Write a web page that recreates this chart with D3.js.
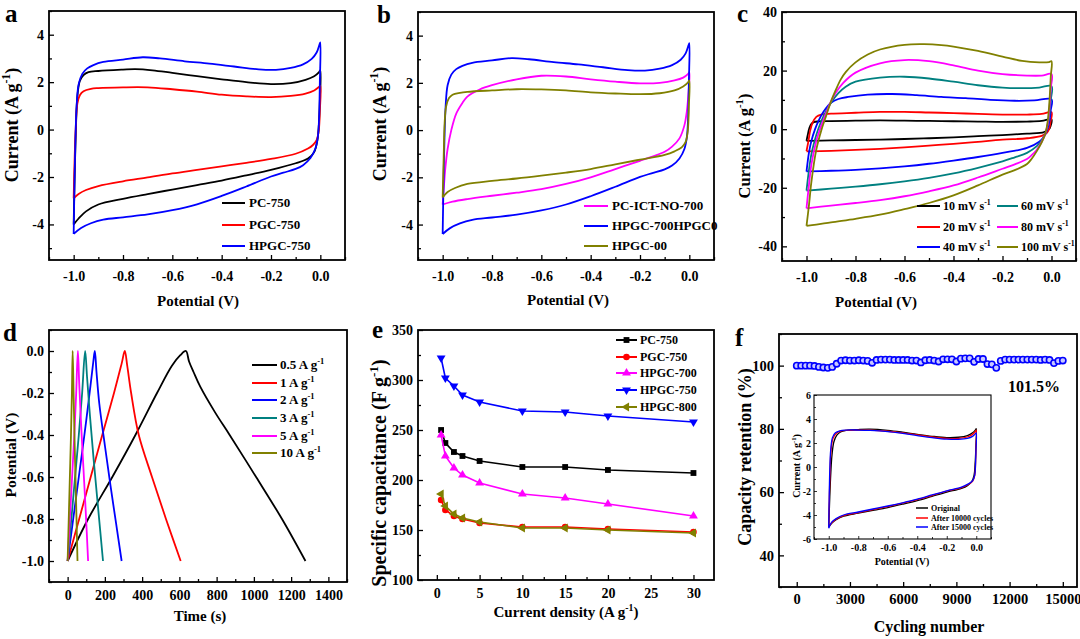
<!DOCTYPE html>
<html><head><meta charset="utf-8">
<script src="https://cdn.jsdelivr.net/npm/d3@7"></script>
<style>
body{margin:0;background:#fff}
svg{display:block}
text{font-family:"Liberation Serif","Times New Roman",serif;font-weight:bold;fill:#000}
</style></head>
<body><svg id="c" width="1080" height="639"></svg>
<script>
// ---------------- DATA ----------------
// Panel a : CV at 5 mV/s (Potential V, Current A/g)
const aNames = ["PC-750", "PGC-750", "HPGC-750"];
const aPC750 = [[-1.0,-4.0],[-0.996,-2.0],[-0.991,0.0],[-0.985,1.4],[-0.975,2.05],[-0.96,2.3],[-0.94,2.42],[-0.9,2.47],[-0.8,2.53],[-0.75,2.55],[-0.68,2.5],[-0.6,2.39],[-0.5,2.25],[-0.4,2.12],[-0.3,2.0],[-0.2,1.92],[-0.12,1.96],[-0.06,2.1],[-0.025,2.25],[-0.005,2.42],[0.0,2.5],[-0.002,1.2],[-0.006,0.2],[-0.012,-0.45],[-0.025,-0.95],[-0.05,-1.22],[-0.1,-1.42],[-0.2,-1.7],[-0.3,-1.93],[-0.4,-2.15],[-0.5,-2.34],[-0.6,-2.53],[-0.7,-2.72],[-0.8,-2.92],[-0.9,-3.16],[-0.95,-3.45],[-0.98,-3.75],[-1.0,-4.0]];
const aPGC750 = [[-1.0,-2.9],[-0.996,-1.2],[-0.991,0.2],[-0.985,1.1],[-0.975,1.45],[-0.96,1.62],[-0.93,1.72],[-0.9,1.75],[-0.8,1.78],[-0.7,1.78],[-0.6,1.7],[-0.5,1.6],[-0.4,1.47],[-0.3,1.4],[-0.2,1.37],[-0.12,1.42],[-0.06,1.52],[-0.025,1.65],[-0.005,1.8],[0.0,1.85],[-0.002,0.8],[-0.006,0.0],[-0.015,-0.45],[-0.03,-0.65],[-0.05,-0.8],[-0.1,-1.02],[-0.2,-1.24],[-0.3,-1.4],[-0.4,-1.55],[-0.5,-1.7],[-0.6,-1.85],[-0.7,-2.02],[-0.8,-2.18],[-0.9,-2.38],[-0.95,-2.55],[-0.98,-2.72],[-1.0,-2.9]];
const aHPGC750 = [[-1.0,-4.4],[-0.997,-2.5],[-0.993,-0.5],[-0.988,1.0],[-0.98,1.9],[-0.965,2.35],[-0.945,2.58],[-0.92,2.72],[-0.88,2.85],[-0.8,2.95],[-0.72,3.05],[-0.65,3.0],[-0.55,2.88],[-0.45,2.78],[-0.35,2.66],[-0.25,2.54],[-0.18,2.52],[-0.12,2.6],[-0.07,2.75],[-0.035,2.98],[-0.015,3.25],[-0.003,3.6],[0.0,3.68],[-0.002,2.0],[-0.005,0.5],[-0.01,-0.3],[-0.02,-0.8],[-0.04,-1.2],[-0.07,-1.5],[-0.1,-1.66],[-0.15,-1.82],[-0.2,-1.98],[-0.3,-2.4],[-0.4,-2.8],[-0.5,-3.15],[-0.6,-3.4],[-0.7,-3.58],[-0.8,-3.7],[-0.88,-3.8],[-0.93,-3.95],[-0.97,-4.15],[-1.0,-4.4]];

// Panel b
const bNames = ["PC-ICT-NO-700", "HPGC-700HPGC0", "HPGC-00"];
const bPCICT = [[-1.0,-3.15],[-0.995,-2.4],[-0.99,-1.7],[-0.98,-0.8],[-0.965,0.0],[-0.945,0.7],[-0.92,1.15],[-0.9,1.42],[-0.85,1.72],[-0.8,1.9],[-0.7,2.15],[-0.6,2.3],[-0.5,2.27],[-0.4,2.15],[-0.3,2.05],[-0.2,1.98],[-0.12,2.0],[-0.06,2.1],[-0.025,2.22],[-0.005,2.38],[0.0,2.45],[-0.004,1.5],[-0.01,0.8],[-0.02,0.2],[-0.04,-0.35],[-0.07,-0.7],[-0.1,-0.92],[-0.15,-1.12],[-0.2,-1.3],[-0.3,-1.65],[-0.4,-2.0],[-0.5,-2.28],[-0.6,-2.5],[-0.7,-2.65],[-0.8,-2.78],[-0.9,-2.92],[-0.96,-3.03],[-1.0,-3.15]];
const bHPGC700 = aHPGC750;
const bHPGC00 = [[-1.0,-2.85],[-0.996,-1.2],[-0.992,0.3],[-0.986,1.0],[-0.975,1.35],[-0.96,1.5],[-0.93,1.58],[-0.9,1.62],[-0.8,1.68],[-0.7,1.73],[-0.6,1.72],[-0.5,1.68],[-0.4,1.6],[-0.3,1.55],[-0.2,1.52],[-0.12,1.56],[-0.06,1.68],[-0.025,1.85],[-0.005,2.02],[0.0,2.1],[-0.002,1.0],[-0.006,0.0],[-0.015,-0.5],[-0.03,-0.72],[-0.06,-0.9],[-0.1,-1.05],[-0.2,-1.25],[-0.3,-1.45],[-0.4,-1.65],[-0.5,-1.8],[-0.6,-1.93],[-0.7,-2.05],[-0.8,-2.15],[-0.9,-2.28],[-0.95,-2.45],[-0.98,-2.62],[-1.0,-2.85]];

// Panel c : CV at scan rates
const cNames = ["10 mV s", "20 mV s", "40 mV s", "60 mV s", "80 mV s", "100 mV s"];
const c10 = [[-1.0,-4.0],[-0.995,-2.0],[-0.988,0.5],[-0.98,1.8],[-0.97,2.4],[-0.95,2.65],[-0.9,2.75],[-0.8,2.9],[-0.7,3.0],[-0.6,2.9],[-0.5,2.8],[-0.4,2.7],[-0.3,2.6],[-0.2,2.5],[-0.1,2.6],[-0.04,2.8],[0.0,3.3],[-0.004,1.0],[-0.01,0.0],[-0.03,-1.0],[-0.1,-1.5],[-0.2,-2.0],[-0.3,-2.4],[-0.4,-2.8],[-0.5,-3.1],[-0.6,-3.35],[-0.7,-3.55],[-0.8,-3.7],[-0.9,-3.85],[-1.0,-4.0]];
const c20 = [[-1.0,-7.5],[-0.992,-4.0],[-0.985,-0.5],[-0.975,2.2],[-0.96,4.2],[-0.94,5.0],[-0.9,5.3],[-0.8,5.6],[-0.7,5.9],[-0.6,5.9],[-0.5,5.7],[-0.4,5.5],[-0.3,5.2],[-0.2,5.0],[-0.1,5.0],[-0.04,5.2],[0.0,5.8],[-0.004,2.5],[-0.01,0.0],[-0.02,-1.3],[-0.04,-2.3],[-0.1,-3.1],[-0.2,-3.6],[-0.3,-4.3],[-0.4,-5.0],[-0.5,-5.6],[-0.6,-6.2],[-0.7,-6.7],[-0.8,-7.1],[-0.9,-7.4],[-1.0,-7.6]];
const c40 = [[-1.0,-14.5],[-0.99,-8.0],[-0.98,-4.0],[-0.965,0.0],[-0.95,3.0],[-0.93,6.0],[-0.9,9.0],[-0.87,10.3],[-0.83,11.0],[-0.75,11.8],[-0.65,12.0],[-0.55,11.6],[-0.45,11.0],[-0.35,10.6],[-0.25,10.0],[-0.15,9.7],[-0.07,9.8],[0.0,10.2],[-0.003,6.5],[-0.008,3.0],[-0.015,0.5],[-0.03,-2.5],[-0.05,-4.3],[-0.1,-6.4],[-0.2,-8.1],[-0.3,-9.5],[-0.4,-10.7],[-0.5,-11.8],[-0.6,-12.7],[-0.7,-13.4],[-0.8,-13.9],[-0.9,-14.2],[-1.0,-14.4]];
const c60 = [[-1.0,-21.0],[-0.99,-14.0],[-0.98,-8.5],[-0.96,-2.0],[-0.95,0.5],[-0.93,4.5],[-0.9,9.0],[-0.87,12.3],[-0.84,14.5],[-0.8,16.2],[-0.7,17.6],[-0.6,17.9],[-0.5,17.3],[-0.4,16.2],[-0.3,15.0],[-0.2,14.2],[-0.12,14.0],[-0.05,14.2],[0.0,14.7],[-0.003,10.0],[-0.008,5.5],[-0.015,1.5],[-0.025,-1.3],[-0.04,-3.8],[-0.06,-5.8],[-0.1,-8.1],[-0.15,-9.6],[-0.2,-11.0],[-0.3,-13.2],[-0.4,-15.1],[-0.5,-16.6],[-0.6,-17.8],[-0.7,-18.8],[-0.8,-19.6],[-0.9,-20.3],[-1.0,-21.0]];
const c80 = [[-1.0,-27.0],[-0.99,-19.0],[-0.98,-12.0],[-0.96,-4.0],[-0.945,0.0],[-0.92,5.5],[-0.9,9.5],[-0.88,12.5],[-0.85,15.8],[-0.8,19.3],[-0.7,22.5],[-0.6,23.6],[-0.5,23.2],[-0.4,21.8],[-0.3,20.0],[-0.2,18.8],[-0.1,18.3],[-0.04,18.3],[0.0,18.8],[-0.003,14.0],[-0.008,7.5],[-0.015,2.0],[-0.025,-1.5],[-0.04,-4.3],[-0.06,-7.0],[-0.08,-8.8],[-0.1,-10.2],[-0.15,-12.0],[-0.2,-13.5],[-0.3,-16.5],[-0.4,-19.2],[-0.5,-21.2],[-0.6,-22.9],[-0.7,-24.2],[-0.8,-25.2],[-0.9,-26.1],[-1.0,-27.0]];
const c100 = [[-1.0,-33.0],[-0.99,-26.0],[-0.98,-18.0],[-0.96,-7.0],[-0.94,-0.5],[-0.92,4.5],[-0.9,9.5],[-0.88,13.5],[-0.86,17.0],[-0.84,19.5],[-0.8,22.8],[-0.75,25.5],[-0.7,27.2],[-0.6,28.8],[-0.52,29.0],[-0.45,28.7],[-0.4,28.2],[-0.3,26.7],[-0.2,24.8],[-0.12,23.3],[-0.05,22.8],[-0.01,22.9],[0.0,23.2],[-0.003,18.0],[-0.008,10.0],[-0.015,3.0],[-0.025,-1.5],[-0.04,-4.5],[-0.06,-7.5],[-0.08,-10.0],[-0.1,-11.9],[-0.15,-14.0],[-0.2,-15.5],[-0.3,-19.2],[-0.4,-22.6],[-0.5,-25.2],[-0.6,-27.3],[-0.7,-29.2],[-0.8,-30.6],[-0.9,-31.8],[-0.96,-32.6],[-1.0,-33.0]];

// Panel d : GCD (Time s, Potential V)
const dNames = ["0.5 A g", "1 A g", "2 A g", "3 A g", "5 A g", "10 A g"];
const gcd05 = [[0,-1.0],[110,-0.8],[240,-0.6],[364,-0.4],[480,-0.2],[560,-0.07],[605,-0.02],[635,0.0],[652,-0.05],[676,-0.1],[712,-0.17],[790,-0.29],[870,-0.4],[1012,-0.6],[1151,-0.8],[1277,-1.0]];
const gcd1 = [[0,-1.0],[62,-0.8],[124,-0.6],[186,-0.4],[249,-0.2],[290,-0.06],[307,0.0],[320,-0.07],[341,-0.2],[382,-0.4],[453,-0.6],[528,-0.8],[607,-1.0]];
const gcd2 = [[0,-1.0],[30,-0.8],[60,-0.6],[90,-0.4],[118,-0.2],[138,-0.05],[146,0.0],[155,-0.1],[170,-0.25],[200,-0.45],[230,-0.64],[260,-0.82],[290,-1.0]];
const gcd3 = [[0,-1.0],[20,-0.8],[40,-0.6],[60,-0.4],[78,-0.2],[94,0.0],[104,-0.12],[120,-0.31],[140,-0.52],[165,-0.76],[190,-1.0]];
const gcd5 = [[0,-1.0],[12,-0.8],[24,-0.6],[36,-0.4],[46,-0.2],[55,0.0],[62,-0.15],[73,-0.36],[85,-0.56],[97,-0.76],[110,-1.0]];
const gcd10 = [[0,-1.0],[6,-0.8],[12,-0.6],[18,-0.4],[23,-0.2],[27,0.0],[32,-0.2],[38,-0.45],[45,-0.7],[53,-1.0]];

// Panel e : specific capacitance vs current density
const eDensity = [0.5, 1, 2, 3, 5, 10, 15, 20, 30];
const eNames = ["PC-750", "PGC-750", "HPGC-700", "HPGC-750", "HPGC-800"];
const ePC750 = [250, 237, 228, 224, 219, 213, 213, 210, 207];
const ePGC750 = [180, 170, 164, 161, 157, 153, 153, 151, 148];
const eHPGC700 = [245, 224, 212, 205, 197, 186, 182, 176, 164];
const eHPGC750 = [322, 302, 294, 285, 278, 269, 268, 264, 258];
const eHPGC800 = [186, 174, 166, 162, 158, 152, 152, 150, 147];

// Panel f : cycling stability (every 250 cycles)
const fCycles = [0,250,500,750,1000,1250,1500,1750,2000,2250,2500,2750,3000,3250,3500,3750,4000,4250,4500,4750,5000,5250,5500,5750,6000,6250,6500,6750,7000,7250,7500,7750,8000,8250,8500,8750,9000,9250,9500,9750,10000,10250,10500,10750,11000,11250,11500,11750,12000,12250,12500,12750,13000,13250,13500,13750,14000,14250,14500,14750,15000];
const fRetention = [100,100,100,100,99.9,99.6,99.4,99.3,99.6,100.6,101.6,101.7,101.6,101.6,101.7,101.6,101.5,100.9,101.8,101.9,101.9,101.9,101.8,101.8,101.8,101.8,101.6,101.6,101.0,101.7,101.8,101.6,101.3,102.0,102.0,102.0,101.3,102.2,102.3,102.3,101.2,102.1,102.1,100.5,100.4,99.3,101.5,101.9,101.9,101.9,101.9,101.9,101.9,101.9,101.9,101.8,101.9,101.8,100.8,101.5,101.6];
const fNames = ["Original", "After 10000 cycles", "After 15000 cycles"];
const fOriginal = [[-1.0,-5.0],[-0.993,-2.5],[-0.986,-0.5],[-0.978,1.0],[-0.965,2.1],[-0.945,2.65],[-0.92,2.92],[-0.88,3.05],[-0.8,3.12],[-0.72,3.15],[-0.6,3.05],[-0.5,2.9],[-0.4,2.72],[-0.3,2.56],[-0.2,2.45],[-0.12,2.48],[-0.06,2.62],[-0.025,2.85],[-0.005,3.1],[0.0,3.2],[-0.003,1.5],[-0.008,0.2],[-0.015,-0.7],[-0.03,-1.2],[-0.06,-1.55],[-0.1,-1.78],[-0.2,-2.1],[-0.3,-2.45],[-0.4,-2.8],[-0.5,-3.1],[-0.6,-3.38],[-0.7,-3.62],[-0.8,-3.85],[-0.9,-4.1],[-0.95,-4.4],[-0.98,-4.7],[-1.0,-5.0]];
const f10000 = [[-1.0,-5.0],[-0.996,-2.5],[-0.991,-0.3],[-0.985,1.3],[-0.972,2.35],[-0.95,2.8],[-0.92,2.98],[-0.88,3.05],[-0.8,3.07],[-0.72,3.07],[-0.6,2.98],[-0.5,2.85],[-0.4,2.68],[-0.3,2.5],[-0.2,2.38],[-0.12,2.38],[-0.06,2.5],[-0.025,2.72],[-0.005,2.98],[0.0,3.08],[-0.002,1.5],[-0.005,0.2],[-0.01,-0.7],[-0.025,-1.2],[-0.06,-1.5],[-0.1,-1.72],[-0.2,-2.02],[-0.3,-2.38],[-0.4,-2.72],[-0.5,-3.02],[-0.6,-3.3],[-0.7,-3.55],[-0.8,-3.8],[-0.9,-4.05],[-0.95,-4.35],[-0.98,-4.65],[-1.0,-5.0]];
const f15000 = [[-1.0,-5.1],[-0.997,-2.5],[-0.993,-0.3],[-0.987,1.4],[-0.975,2.45],[-0.955,2.85],[-0.925,3.02],[-0.88,3.08],[-0.8,3.08],[-0.72,3.05],[-0.6,2.95],[-0.5,2.8],[-0.4,2.62],[-0.3,2.45],[-0.2,2.32],[-0.12,2.3],[-0.06,2.38],[-0.025,2.55],[-0.005,2.78],[0.0,2.85],[-0.002,1.4],[-0.005,0.2],[-0.01,-0.65],[-0.025,-1.15],[-0.06,-1.45],[-0.1,-1.68],[-0.2,-1.98],[-0.3,-2.33],[-0.4,-2.68],[-0.5,-2.98],[-0.6,-3.25],[-0.7,-3.5],[-0.8,-3.75],[-0.9,-4.0],[-0.95,-4.3],[-0.98,-4.6],[-1.0,-5.1]];

// Tick values
const cvXTicks = [-1.0,-0.8,-0.6,-0.4,-0.2,0.0];
const cvXMinor = [-1.1,-0.9,-0.7,-0.5,-0.3,-0.1,0.1];
const abYTicks = [-4,-2,0,2,4];
const abYMinor = [-5,-3,-1,1,3,5];
const cYTicks = [-40,-20,0,20,40];
const cYMinor = [-30,-10,10,30];
const dXTicks = [0,200,400,600,800,1000,1200,1400];
const dXMinor = [-100,100,300,500,700,900,1100,1300,1500];
const dYTicks = [-1.0,-0.8,-0.6,-0.4,-0.2,0.0];
const dYMinor = [-1.1,-0.9,-0.7,-0.5,-0.3,-0.1,0.1];
const eXTicks = [0,5,10,15,20,25,30];
const eXMinor = [2.5,7.5,12.5,17.5,22.5,27.5];
const eYTicks = [100,150,200,250,300,350];
const eYMinor = [125,175,225,275,325];
const fXTicks = [0,3000,6000,9000,12000,15000];
const fXMinor = [1500,4500,7500,10500,13500];
const fYTicks = [40,60,80,100];
const fYMinor = [30,50,70,90,110];
const inYTicks = [-6,-4,-2,0,2,4,6];
const inYMinor = [-5,-3,-1,1,3,5];

// ---------------- DRAWING ----------------
const svg = d3.select("#c");
const fmt1 = d => d.toFixed(1);
const fmt0 = d => String(d);

function rich(sel, parts, fs) {
  let up = false;
  parts.forEach(p => {
    if (typeof p === "string") {
      const t = sel.append("tspan").text(p);
      if (up) { t.attr("dy", fs * 0.42); up = false; }
    } else {
      sel.append("tspan").attr("font-size", fs * 0.65).attr("dy", -fs * 0.42).text(p.sup);
      up = true;
    }
  });
}

function panel(c) {
  const g = svg.append("g");
  const x = d3.scaleLinear().domain(c.xd).range([c.x0, c.x1]);
  const y = d3.scaleLinear().domain(c.yd).range([c.y0, c.y1]);
  const tl = c.tl || 5, ml = c.ml || 3, fs = c.fs || 14;
  const style = a => {
    a.select(".domain").remove();
    a.attr("font-family", null).attr("font-size", fs);
    a.selectAll("line").attr("stroke", "#000").attr("stroke-width", c.tw || 1.3);
  };
  g.append("g").attr("transform", `translate(0,${c.y0})`)
    .call(d3.axisBottom(x).tickValues(c.xt).tickFormat(c.xf).tickSizeInner(-tl).tickSizeOuter(0).tickPadding(c.xp || 9)).call(style);
  g.append("g").attr("transform", `translate(0,${c.y0})`)
    .call(d3.axisBottom(x).tickValues(c.xm).tickFormat("").tickSizeInner(-ml).tickSizeOuter(0)).call(style);
  g.append("g").attr("transform", `translate(${c.x0},0)`)
    .call(d3.axisLeft(y).tickValues(c.yt).tickFormat(c.yf).tickSizeInner(-tl).tickSizeOuter(0).tickPadding(c.yp || 5)).call(style);
  g.append("g").attr("transform", `translate(${c.x0},0)`)
    .call(d3.axisLeft(y).tickValues(c.ym).tickFormat("").tickSizeInner(-ml).tickSizeOuter(0)).call(style);
  g.append("rect").attr("x", c.x0).attr("y", c.y1).attr("width", c.x1 - c.x0).attr("height", c.y0 - c.y1)
    .attr("fill", "none").attr("stroke", "#000").attr("stroke-width", c.fw || 1.8);
  if (c.xl) {
    const t = g.append("text").attr("x", c.xl.x).attr("y", c.xl.y).attr("text-anchor", "middle").attr("font-size", c.xl.fs);
    rich(t, c.xl.t, c.xl.fs);
  }
  if (c.yl) {
    const t = g.append("text").attr("transform", `translate(${c.yl.x},${c.yl.y}) rotate(-90)`).attr("text-anchor", "middle").attr("font-size", c.yl.fs);
    rich(t, c.yl.t, c.yl.fs);
  }
  if (c.lab) g.append("text").attr("x", c.lab.x).attr("y", c.lab.y).attr("font-size", 25).text(c.lab.t);
  return {g, x, y};
}

const cvLine = (x, y) => d3.line().x(d => x(d[0])).y(d => y(d[1])).curve(d3.curveCatmullRom.alpha(0.5));

function drawCurves(p, series, colors, w) {
  const ln = cvLine(p.x, p.y);
  series.forEach((s, i) => p.g.append("path").attr("d", ln(s)).attr("fill", "none")
    .attr("stroke", colors[i]).attr("stroke-width", w || 1.8).attr("stroke-linejoin", "round"));
}

function legend(g, items, lx0, lx1, tx, ys, fs, lw) {
  items.forEach((it, i) => {
    g.append("line").attr("x1", lx0).attr("x2", lx1).attr("y1", ys[i]).attr("y2", ys[i])
      .attr("stroke", it.c).attr("stroke-width", lw || 2);
    const t = g.append("text").attr("x", tx).attr("y", ys[i] + fs * 0.34).attr("font-size", fs);
    rich(t, it.t, fs);
    if (it.sym) {
      g.append("path").attr("d", d3.symbol().type(it.sym).size(34)())
        .attr("transform", `translate(${(lx0 + lx1) / 2},${ys[i]}) rotate(${it.rot || 0})`).attr("fill", it.c);
    }
  });
}

const curLabel = ["Current (A g", {sup: "-1"}, ")"];

// Panel a
const pa = panel({x0: 49, x1: 345, y0: 260, y1: 11, xd: [-1.1, 0.1], yd: [-5.5, 5],
  xt: cvXTicks, xm: cvXMinor, xf: fmt1, yt: abYTicks, ym: abYMinor, yf: fmt0, xp: 11,
  xl: {x: 198, y: 306, t: ["Potential (V)"], fs: 15}, yl: {x: 18, y: 125, t: curLabel, fs: 18},
  lab: {x: 5, y: 22, t: "a"}});
const aColors = ["#000000", "#ff0000", "#0000ff"];
drawCurves(pa, [aPC750, aPGC750, aHPGC750], aColors);
legend(pa.g, aNames.map((n, i) => ({t: [n], c: aColors[i]})), 222, 245, 249, [203, 225, 246], 13);

// Panel b
const pb = panel({x0: 418, x1: 714, y0: 260, y1: 12, xd: [-1.1, 0.1], yd: [-5.5, 5],
  xt: cvXTicks, xm: cvXMinor, xf: fmt1, yt: abYTicks, ym: abYMinor, yf: fmt0, xp: 11,
  xl: {x: 568, y: 305, t: ["Potential (V)"], fs: 15}, yl: {x: 386, y: 124, t: curLabel, fs: 18},
  lab: {x: 377, y: 23, t: "b"}});
const bColors = ["#ff00ff", "#0000ff", "#808000"];
drawCurves(pb, [bPCICT, bHPGC700, bHPGC00], bColors);
legend(pb.g, bNames.map((n, i) => ({t: [n], c: bColors[i]})), 584, 608, 612, [206, 226, 246], 13);

// Panel c
const pc = panel({x0: 782, x1: 1076, y0: 261, y1: 12, xd: [-1.1, 0.1], yd: [-45, 40],
  xt: cvXTicks, xm: cvXMinor, xf: fmt1, yt: cYTicks, ym: cYMinor, yf: fmt0, xp: 11,
  xl: {x: 876, y: 307, t: ["Potential (V)"], fs: 15}, yl: {x: 750, y: 146, t: curLabel, fs: 16.5},
  lab: {x: 737, y: 22, t: "c"}});
const cColors = ["#000000", "#ff0000", "#0000ff", "#008080", "#ff00ff", "#808000"];
drawCurves(pc, [c10, c20, c40, c60, c80, c100], cColors);
legend(pc.g, cNames.slice(0, 3).map((n, i) => ({t: [n, {sup: "-1"}], c: cColors[i]})), 917, 940, 943, [206, 227, 247], 12);
legend(pc.g, cNames.slice(3).map((n, i) => ({t: [n, {sup: "-1"}], c: cColors[i + 3]})), 997, 1018, 1021, [206, 227, 247], 12);

// Panel d
const pd = panel({x0: 49, x1: 347, y0: 582, y1: 330, xd: [-100, 1500], yd: [-1.1, 0.1],
  xt: dXTicks, xm: dXMinor, xf: fmt0, yt: dYTicks, ym: dYMinor, yf: fmt1, xp: 8,
  xl: {x: 200, y: 621, t: ["Time (s)"], fs: 15}, yl: {x: 16, y: 455, t: ["Potential (V)"], fs: 15.5},
  lab: {x: 3, y: 341, t: "d"}});
const dColors = ["#000000", "#ff0000", "#0000ff", "#008080", "#ff00ff", "#808000"];
const gcdLine = d3.line().x(d => pd.x(d[0])).y(d => pd.y(d[1])).curve(d3.curveCatmullRom.alpha(0.5));
[gcd05, gcd1, gcd2, gcd3, gcd5, gcd10].forEach((s, i) => pd.g.append("path").attr("d", gcdLine(s)).attr("fill", "none")
  .attr("stroke", dColors[i]).attr("stroke-width", 1.8));
legend(pd.g, dNames.map((n, i) => ({t: [n, {sup: "-1"}], c: dColors[i]})), 252, 277, 280, [365, 383, 400, 418, 436, 453], 13);

// Panel e
const pe = panel({x0: 418, x1: 714, y0: 580, y1: 330, xd: [-2.2, 32.4], yd: [100, 350],
  xt: eXTicks, xm: eXMinor, xf: fmt0, yt: eYTicks, ym: eYMinor, yf: fmt0, xp: 8,
  xl: {x: 566, y: 617, t: ["Current density (A g", {sup: "-1"}, ")"], fs: 15},
  yl: {x: 386, y: 473, t: ["Specific capacitance (F g", {sup: "-1"}, ")"], fs: 20},
  lab: {x: 372, y: 338, t: "e"}});
const eColors = ["#000000", "#ff0000", "#ff00ff", "#0000ff", "#808000"];
const eSyms = [d3.symbolSquare, d3.symbolCircle, d3.symbolTriangle, d3.symbolTriangle, d3.symbolTriangle];
const eRot = [0, 0, 0, 180, -90];
const eLine = d3.line().x(d => pe.x(d[0])).y(d => pe.y(d[1]));
[ePC750, ePGC750, eHPGC700, eHPGC750, eHPGC800].forEach((vals, i) => {
  const pts = eDensity.map((d, j) => [d, vals[j]]);
  pe.g.append("path").attr("d", eLine(pts)).attr("fill", "none").attr("stroke", eColors[i]).attr("stroke-width", 1.6);
  pe.g.selectAll(null).data(pts).enter().append("path")
    .attr("d", d3.symbol().type(eSyms[i]).size(34)())
    .attr("transform", d => `translate(${pe.x(d[0])},${pe.y(d[1])}) rotate(${eRot[i]})`)
    .attr("fill", eColors[i]);
});
legend(pe.g, eNames.map((n, i) => ({t: [n], c: eColors[i], sym: eSyms[i], rot: eRot[i]})), 616, 637, 640, [340, 357, 373, 390, 407], 12);

// Panel f
const pf = panel({x0: 779, x1: 1077, y0: 587, y1: 334, xd: [-1000, 15800], yd: [30, 110],
  xt: fXTicks, xm: fXMinor, xf: fmt0, yt: fYTicks, ym: fYMinor, yf: fmt0, xp: 7, fs: 14.5,
  xl: {x: 929, y: 632, t: ["Cycling number"], fs: 16},
  yl: {x: 751, y: 457, t: ["Capacity retention (%)"], fs: 18},
  lab: {x: 735, y: 346, t: "f"}});
pf.g.selectAll(null).data(fCycles.map((c, i) => [c, fRetention[i]])).enter().append("circle")
  .attr("cx", d => pf.x(d[0])).attr("cy", d => pf.y(d[1])).attr("r", 3.1)
  .attr("fill", "#c8c8ff").attr("stroke", "#0000ff").attr("stroke-width", 1.6);
pf.g.append("text").attr("x", 1034).attr("y", 392).attr("text-anchor", "middle").attr("font-size", 16).text("101.5%");

// Inset
const pi = panel({x0: 814, x1: 991, y0: 539, y1: 395, xd: [-1.1, 0.1], yd: [-6, 6],
  xt: cvXTicks, xm: cvXMinor, xf: fmt1, yt: inYTicks, ym: inYMinor, yf: fmt0, xp: 5, yp: 3, fs: 10,
  tl: 3, ml: 2, tw: 0.8, fw: 1.1,
  xl: {x: 902, y: 565, t: ["Potential (V)"], fs: 10}, yl: {x: 800, y: 466, t: curLabel, fs: 10}});
const fColors = ["#000000", "#ff0000", "#0000ff"];
drawCurves(pi, [fOriginal, f10000, f15000], fColors, 1.3);
legend(pi.g, fNames.map((n, i) => ({t: [n], c: fColors[i]})), 916, 928, 931, [508, 518, 527], 8, 1.5);
</script></body></html>
